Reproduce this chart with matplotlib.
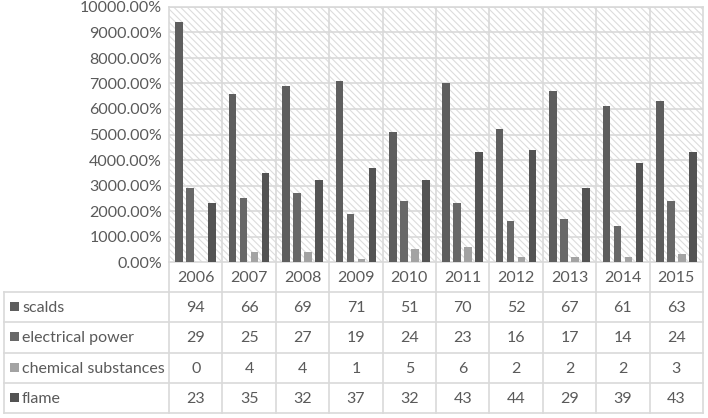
import numpy as np
import matplotlib.pyplot as plt
from matplotlib.patches import Rectangle
from matplotlib.ticker import FuncFormatter

years = ['2006', '2007', '2008', '2009', '2010', '2011', '2012', '2013', '2014', '2015']
series_names = ['scalds', 'electrical power', 'chemical substances', 'flame']
scalds = [94, 66, 69, 71, 51, 70, 52, 67, 61, 63]
electrical_power = [29, 25, 27, 19, 24, 23, 16, 17, 14, 24]
chemical_substances = [0, 4, 4, 1, 5, 6, 2, 2, 2, 3]
flame = [23, 35, 32, 37, 32, 43, 44, 29, 39, 43]

colors = ['#5e5e5e', '#686868', '#a3a3a3', '#535353']
text_color = '#5a5a5a'
grid_color = '#d9d9d9'
fs = 11.5

plt.rcParams['font.family'] = ['Lato', 'DejaVu Sans']
plt.rcParams['hatch.color'] = '#dcdcdc'
plt.rcParams['hatch.linewidth'] = 0.8

W, H = 708, 418
fig = plt.figure(figsize=(W / 100, H / 100), dpi=100)

x0, x1 = 169, 703
ytop, ybot = 7, 262
ax = fig.add_axes([x0 / W, 1 - ybot / H, (x1 - x0) / W, (ybot - ytop) / H])

data = [scalds, electrical_power, chemical_substances, flame]
n = len(years)
x = np.arange(n)
slot = 0.206
bw = 0.14
for i, vals in enumerate(data):
    ax.bar(x + (i - 1.5) * slot, vals, width=bw, color=colors[i], zorder=3)

ax.set_xlim(-0.5, n - 0.5)
ax.set_ylim(0, 100)
ax.add_patch(Rectangle((0, 0), 1, 1, transform=ax.transAxes, facecolor='white',
                       hatch='\\\\\\\\\\', edgecolor='#dcdcdc', linewidth=0, zorder=0))
ax.set_yticks(np.arange(0, 101, 10))
ax.yaxis.set_major_formatter(FuncFormatter(lambda v, p: f'{v * 100:.2f}%'))
ax.tick_params(axis='y', length=0, pad=5, labelsize=fs, labelcolor=text_color)
ax.set_xticks([])
for yv in np.arange(10, 101, 10):
    ax.axhline(yv, color=grid_color, lw=1.2, zorder=1)
for xv in np.arange(0.5, n - 0.5, 1):
    ax.axvline(xv, color=grid_color, lw=1.2, zorder=1)
for s in ax.spines.values():
    s.set_color(grid_color)
    s.set_linewidth(1.2)

# data table below the plot
tab = fig.add_axes([0, 0, 1, 1])
tab.set_xlim(0, W)
tab.set_ylim(H, 0)
tab.axis('off')
lx = 4
row_top = 292
row_h = 30.3
col_w = (x1 - x0) / n
lc = grid_color

# header row with years
for j in range(n + 1):
    tab.plot([x0 + j * col_w] * 2, [ybot, row_top], color=lc, lw=1.2)
for j, yr in enumerate(years):
    tab.text(x0 + (j + 0.5) * col_w, (ybot + row_top) / 2 + 1, yr, ha='center', va='center',
             fontsize=fs, color=text_color)

# body rows
nrows = len(series_names)
for r in range(nrows + 1):
    yy = row_top + r * row_h
    tab.plot([lx, x1], [yy, yy], color=lc, lw=1.2)
ybottom = row_top + nrows * row_h
tab.plot([lx, lx], [row_top, ybottom], color=lc, lw=1.2)
for j in range(n + 1):
    tab.plot([x0 + j * col_w] * 2, [row_top, ybottom], color=lc, lw=1.2)

for r, name in enumerate(series_names):
    yc = row_top + (r + 0.5) * row_h
    tab.add_patch(Rectangle((10, yc - 5), 9, 9, facecolor=colors[r], edgecolor='none'))
    tab.text(22, yc + 1, name, ha='left', va='center', fontsize=fs, color=text_color)
    for j in range(n):
        tab.text(x0 + (j + 0.5) * col_w, yc + 1, str(data[r][j]), ha='center', va='center',
                 fontsize=fs, color=text_color)

fig.savefig('out.png', dpi=100)
